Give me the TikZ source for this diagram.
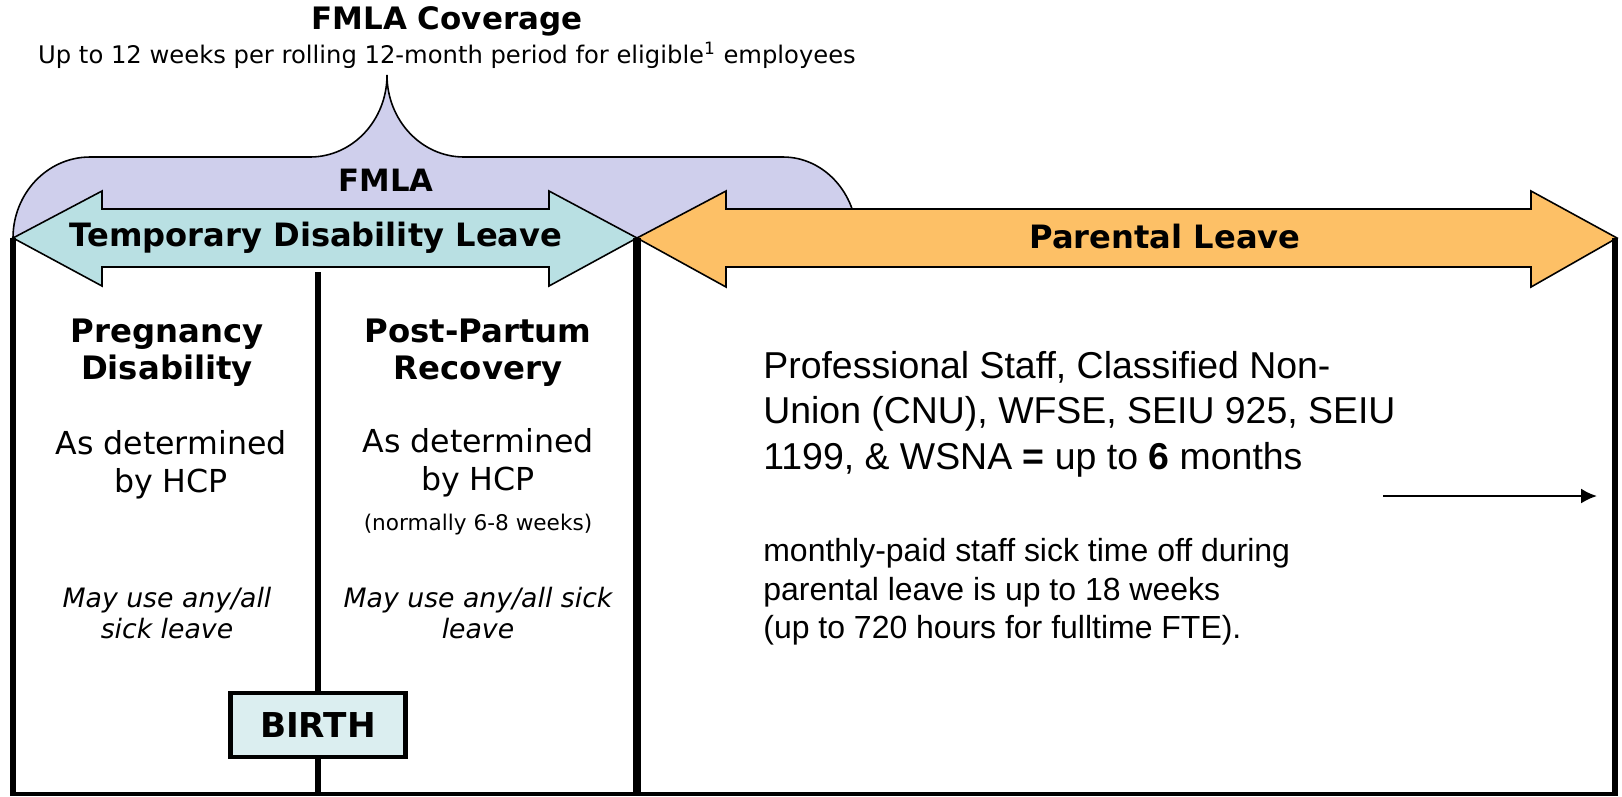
\documentclass[tikz,border=0pt]{standalone}
\usepackage{fontspec}
\setmainfont{DejaVu Sans}
\newfontfamily\arialfont{Liberation Sans}
\usetikzlibrary{arrows.meta}
\definecolor{fmlapurple}{HTML}{CFCFEC}
\definecolor{tdlteal}{HTML}{B9E0E3}
\definecolor{parentorange}{HTML}{FDC066}
\definecolor{birthblue}{HTML}{DBEEF0}

\begin{document}
\begin{tikzpicture}[x=0.02cm,y=-0.02cm,>={Latex[length=9pt,width=8.5pt]},
  bar/.style={line width=3.6pt},
  band/.style={draw,line width=0.9pt},
  bandtext/.style={font=\bfseries\fontsize{18.3}{22}\selectfont},
  colhead/.style={font=\bfseries\fontsize{18.4}{21}\selectfont,align=center},
  colbody/.style={font=\fontsize{18}{21.5}\selectfont,align=center},
  colnote/.style={font=\itshape\fontsize{15.2}{17.6}\selectfont,align=center},
  birthbox/.style={draw,line width=2.4pt,fill=birthblue,minimum width=3.5cm,minimum height=1.28cm,font=\bfseries\fontsize{19.5}{22}\selectfont}]
\useasboundingbox (0,0) rectangle (1622,796);
%title
\node[font=\bfseries\fontsize{17.6}{21}\selectfont] (title) at (447,21) {FMLA Coverage};
\node[font=\fontsize{13.8}{16}\selectfont] (subtitle) at (447,55) {Up to 12 weeks per rolling 12-month period for eligible\textsuperscript{1} employees};
%FMLA brace
\draw[band,fill=fmlapurple] (13,238) arc[start angle=180,end angle=270,x radius=77,y radius=81] -- (310,157)
  arc[start angle=90,end angle=0,x radius=77,y radius=82]
  arc[start angle=180,end angle=90,x radius=77,y radius=82] -- (783,157)
  arc[start angle=270,end angle=360,x radius=74,y radius=81] -- cycle;
\node[font=\bfseries\fontsize{17.5}{21}\selectfont] (fmla) at (386,180) {FMLA};
%temporary disability leave
\draw[band,fill=tdlteal] (13,238) -- (102,191) -- (102,209) -- (549,209) -- (549,191) -- (637,238)
  -- (549,286) -- (549,267) -- (102,267) -- (102,286) -- cycle;
\node[bandtext] (tdl) at (316,238) {Temporary Disability Leave};
%parental leave
\draw[band,fill=parentorange] (637,238) -- (726,191) -- (726,209) -- (1531,209) -- (1531,191) -- (1617,238)
  -- (1531,287) -- (1531,267) -- (726,267) -- (726,287) -- cycle;
\node[bandtext] (parental) at (1165,237) {Parental Leave};
%frame
\draw[bar] (13,238) -- (13,796);
\draw[line width=4pt] (637,238) -- (637,796);
\draw[bar] (1615,238) -- (1615,796);
\draw[line width=1.8pt] (13,794) -- (1615,794);
%birth
\node[birthbox] (birth) at (318,725) {BIRTH};
\draw[line width=3.2pt] (318,272) -- (birth.north);
\draw[line width=3.2pt] (birth.south) -- (318,796);
%pregnancy column
\node[colhead] (preg) at (167,353) {Pregnancy\\Disability};
\node[colbody] (pregdur) at (171,465) {As determined\\by HCP};
\node[colnote] (pregsick) at (167,613) {May use any/all\\sick leave};
%post-partum column
\node[colhead] (post) at (478,353) {Post-Partum\\Recovery};
\node[colbody] (postdur) at (478,463) {As determined\\by HCP};
\node[font=\fontsize{12.3}{15}\selectfont] (postnorm) at (478,525) {(normally 6-8 weeks)};
\node[colnote] (postsick) at (478,613) {May use any/all sick\\leave};
%parental column
\node[anchor=west,align=left,inner sep=0pt,font=\arialfont\fontsize{21.3}{25.8}\selectfont] (staff) at (763,414)
  {Professional Staff, Classified Non-\\Union (CNU), WFSE, SEIU 925, SEIU\\1199, \& WSNA \textbf{=} up to \textbf{6} months};
\node[anchor=west,align=left,inner sep=0pt,font=\arialfont\fontsize{18.2}{21.8}\selectfont] (sick) at (763,592)
  {monthly-paid staff sick time off during\\parental leave is up to 18 weeks\\(up to 720 hours for fulltime FTE).};
\coordinate (arrowstart) at (1383,496);
\coordinate (arrowend) at (1597,496);
\draw[->,line width=1.4pt] (arrowstart) -- (arrowend);
\end{tikzpicture}
\end{document}
